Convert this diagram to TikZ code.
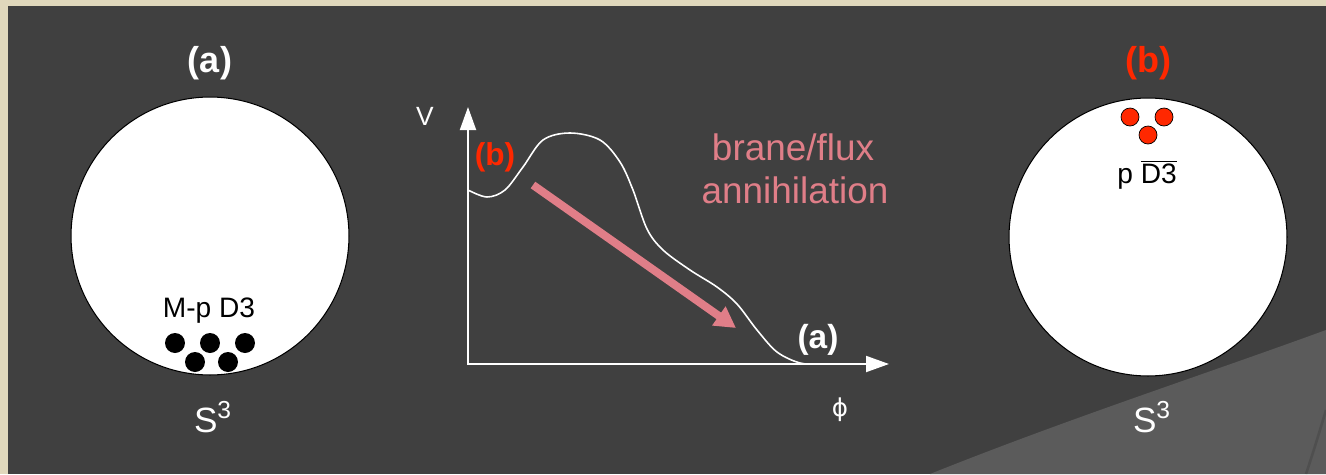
\documentclass[tikz,border=0pt]{standalone}
\usepackage{fontspec}
\setmainfont{Liberation Sans}
\newfontfamily\symfont{DejaVu Sans}
\usetikzlibrary{arrows.meta}
\definecolor{slate}{RGB}{64,64,64}
\definecolor{sand}{RGB}{224,216,188}
\definecolor{swoosh}{RGB}{91,91,91}
\definecolor{hotred}{RGB}{255,40,0}
\definecolor{rose}{RGB}{224,126,136}
\begin{document}
\begin{tikzpicture}[x=0.02cm,y=-0.02cm,>={Triangle[length=0.46cm,width=0.32cm]}]
\tikzstyle{S}=[circle,draw=black,line width=0.6pt,fill=white,minimum size=5.56cm,inner sep=0]
\tikzstyle{L}=[anchor=base,inner sep=0,text=white,font=\fontsize{20.5}{24}\selectfont\bfseries]
\tikzstyle{T}=[anchor=base,inner sep=0,font=\fontsize{16}{19}\selectfont]
\tikzstyle{R}=[anchor=base,inner sep=0,text=rose,font=\fontsize{21}{25}\selectfont]
\tikzstyle{Sthree}=[anchor=base,inner sep=0,text=white,font=\fontsize{20}{24}\selectfont]
% background
\useasboundingbox (0,0) rectangle (1326,474);
\fill[sand] (0,0) rectangle (1326,474);
\fill[slate] (8,6) rectangle (1326,474);
\fill[swoosh] (930,474) .. controls (1070,418) and (1200,376) .. (1326,330) -- (1326,474) -- cycle;
\draw[black,opacity=0.12,line width=1.5pt] (1306,474) .. controls (1314,450) and (1320,430) .. (1326,410);
% sphere (a)
\node[S] (sa) at (210,236) {};
\node[L] (la) at (210,72) {(a)};
\node[T] (mp) at (209,317) {M-p D3};
\foreach \x/\y in {175/343,210/343,245/343,195/362,228/362}
  \fill[black] (\x,\y) circle (0.2cm);
\node[Sthree] (s3a) at (213,432) {S\textsuperscript{3}};
% sphere (b)
\node[S] (sb) at (1148,237) {};
\node[L,text=hotred] (lb) at (1148,72) {(b)};
\foreach \x/\y in {1130/117,1164/117,1148/135}
  \filldraw[fill=hotred,draw=black,line width=0.4pt] (\x,\y) circle (0.18cm);
\node[T] (pd) at (1147,183) {p $\overline{\mbox{D3}}$};
\node[Sthree] (s3b) at (1152,432) {S\textsuperscript{3}};
% potential
\coordinate (vtip) at (468,107);
\coordinate (ptip) at (889,364);
\draw[white,line width=1.1pt,<->] (vtip) |- (ptip);
\draw[white,line width=0.9pt] plot[smooth,tension=0.55] coordinates {(468,190) (487,197) (505,190) (523,167) (543,140) (570,133) (600,140) (620,162) (633,190) (647,229) (663,250) (690,270) (717,287) (737,304) (757,330) (777,352) (800,363) (820,364) (838,364)};
\node[T,text=white,font=\fontsize{15}{18}\selectfont] (V) at (425,125) {V};
\node[L,text=hotred,font=\fontsize{18}{21}\selectfont\bfseries] (gb) at (495,165) {(b)};
\node[L,font=\fontsize{19}{22}\selectfont\bfseries] (ga) at (818,348) {(a)};
\node[text=white,font=\symfont\fontsize{14}{17}\selectfont] (phi) at (840,410) {ϕ};
\node[R] (bf) at (793,160) {brane/flux};
\node[R] (an) at (795,203) {annihilation};
\coordinate (a0) at (533,185);
\coordinate (a1) at (736,328);
\draw[rose,line width=0.16cm,-{Triangle[length=0.42cm,width=0.44cm]}] (a0) -- (a1);
\end{tikzpicture}
\end{document}
